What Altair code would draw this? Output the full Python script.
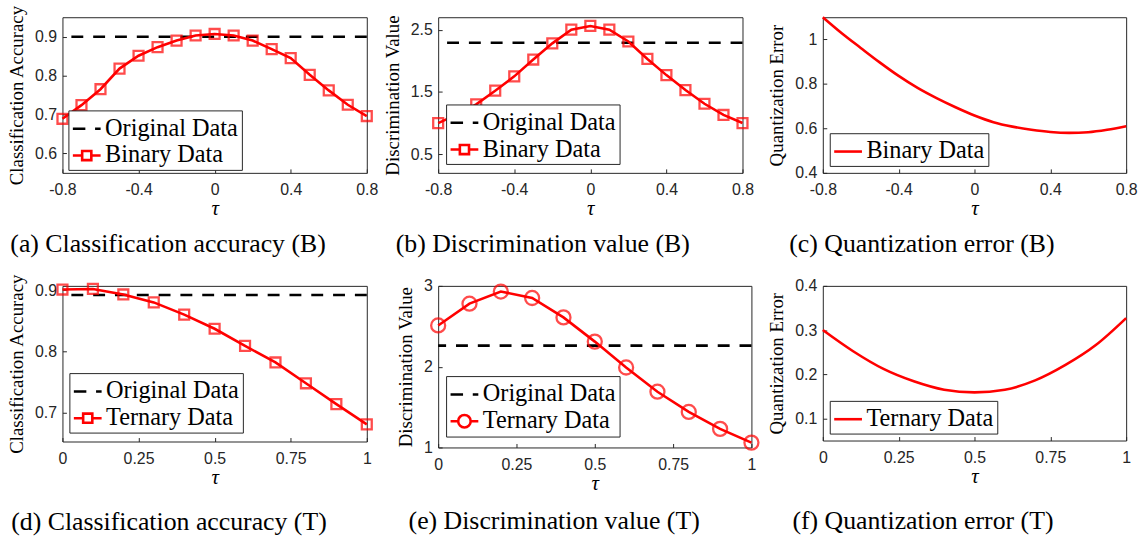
import altair as alt
import pandas as pd

# ---------------- data ----------------
tau_b = [-0.8, -0.7, -0.6, -0.5, -0.4, -0.3, -0.2, -0.1, 0.0, 0.1, 0.2, 0.3, 0.4, 0.5, 0.6, 0.7, 0.8]
acc_b = [0.689, 0.724, 0.765, 0.818, 0.851, 0.873, 0.890, 0.903, 0.907, 0.903, 0.890, 0.868, 0.845, 0.802, 0.762, 0.725, 0.696]
disc_b = [1.00, 1.14, 1.30, 1.52, 1.75, 2.02, 2.28, 2.50, 2.56, 2.50, 2.31, 2.03, 1.77, 1.53, 1.31, 1.13, 1.00]
qe_b = [1.100, 1.028, 0.962, 0.897, 0.836, 0.782, 0.736, 0.695, 0.658, 0.628, 0.608, 0.594, 0.584, 0.580, 0.583, 0.594, 0.610]
orig_acc_b = 0.9
orig_disc_b = 2.29

tau_t = [0.0, 0.1, 0.2, 0.3, 0.4, 0.5, 0.6, 0.7, 0.8, 0.9, 1.0]
acc_t = [0.901, 0.902, 0.893, 0.880, 0.860, 0.837, 0.809, 0.782, 0.748, 0.714, 0.681]
disc_t = [2.51, 2.78, 2.93, 2.85, 2.61, 2.31, 1.99, 1.69, 1.44, 1.23, 1.06]
qe_t = [0.300, 0.252, 0.212, 0.184, 0.165, 0.159, 0.165, 0.186, 0.221, 0.266, 0.327]
orig_acc_t = 0.892
orig_disc_t = 2.26

xticks_b = [-0.8, -0.4, 0, 0.4, 0.8]
xticks_t = [0, 0.25, 0.5, 0.75, 1]

captions = [
    "(a) Classification accuracy (B)",
    "(b) Discrimination value (B)",
    "(c) Quantization error (B)",
    "(d) Classification accuracy (T)",
    "(e) Discrimination value (T)",
    "(f) Quantization error (T)",
]

SERIF = "Liberation Serif"
SANS = "Liberation Sans"
AX = "#262626"

PATH_DASH = "M-1,0H-0.1M0.6,0H1"
PATH_LSQ = "M-1,0H-0.33M0.33,0H1M-0.33,-0.33H0.33V0.33H-0.33Z"
PATH_LCI = "M-1,0H-0.45M0.45,0A0.45,0.45,0,1,1,-0.45,0A0.45,0.45,0,1,1,0.45,0H1"
PATH_LINE = "M-1,0H1"


def panel(tau, vals, xdom, xticks, ydom, yticks, ytitle, series, caption,
          w, h, lx, ly, dx, cap_off, orig=None, marker=None, smooth=False):
    df = pd.DataFrame({"tau": tau, "v": vals, "series": series})
    xenc = alt.X("tau:Q", scale=alt.Scale(domain=xdom, nice=False, zero=False),
                 axis=alt.Axis(values=xticks, labelExpr="'' + datum.value", title="τ",
                               titleFontStyle="italic", titleFont=SERIF, titleFontSize=21,
                               titlePadding=0, labelPadding=9, labelFlush=False,
                               labelOverlap=False, ticks=True, tickSize=4, offset=-4,
                               tickColor=AX, tickWidth=1))
    yenc = alt.Y("v:Q", scale=alt.Scale(domain=ydom, nice=False, zero=False),
                 axis=alt.Axis(values=yticks, labelExpr="'' + datum.value", title=ytitle,
                               titleFont=SERIF, titleFontSize=19, titlePadding=8,
                               labelPadding=6, labelFlush=False, labelOverlap=False,
                               ticks=True, tickSize=4, offset=-4, tickColor=AX, tickWidth=1))
    layers = []
    if orig is not None:
        odf = pd.DataFrame({"v": [orig]})
        layers.append(alt.Chart(odf).mark_rule(color="black", strokeWidth=2.6,
                                               strokeDash=[12, 10]).encode(
            y=alt.Y("v:Q", scale=alt.Scale(domain=ydom, nice=False, zero=False))))
    line = alt.Chart(df).mark_line(color="#ff0000", strokeWidth=2.6,
                                   interpolate="monotone" if smooth else "linear").encode(x=xenc, y=yenc)
    layers.append(line)
    if marker is not None:
        size = 100 if marker == "square" else 200
        layers.append(alt.Chart(df).mark_point(shape=marker, size=size, color="#ff0000",
                                               strokeWidth=2.3, filled=False).encode(x=xenc, y=yenc))
    if orig is not None:
        names = ["Original Data", series]
        colors = ["black", "#ff0000"]
        paths = [PATH_DASH, PATH_LSQ if marker == "square" else PATH_LCI]
    else:
        names = [series]
        colors = ["#ff0000"]
        paths = [PATH_LINE]
    leg = alt.Legend(title=None, orient="none", legendX=lx, legendY=ly,
                     strokeColor=AX, fillColor="white", padding=3,
                     labelFont=SERIF, labelFontSize=24.5, labelColor="black",
                     labelOffset=3, symbolSize=784, symbolStrokeWidth=2.6,
                     symbolOpacity=1, symbolFillColor="transparent", rowPadding=0,
                     labelLimit=400)
    legend_layer = alt.Chart(df).mark_point(opacity=0, filled=False).encode(
        x=xenc, y=yenc,
        color=alt.Color("series:N", scale=alt.Scale(domain=names, range=colors), legend=leg),
        shape=alt.Shape("series:N", scale=alt.Scale(domain=names, range=paths), legend=leg),
    )
    layers.append(legend_layer)
    return alt.layer(*layers).properties(
        width=w, height=h,
        title=alt.TitleParams(caption, orient="bottom", anchor="middle", dx=dx, offset=cap_off,
                              font=SERIF, fontSize=26, fontWeight="normal", color="black"),
    )


def spacer(w, h):
    return alt.Chart(pd.DataFrame({"z": [0]})).mark_point(opacity=0).properties(
        width=w, height=h, view=alt.ViewBackground(stroke="transparent"))


pa = panel(tau_b, acc_b, [-0.8, 0.8], xticks_b, [0.55, 0.95], [0.6, 0.7, 0.8, 0.9],
           "Classification Accuracy", "Binary Data", captions[0], 307, 157, 6, 94, -47, 13,
           orig=orig_acc_b, marker="square")
pb = panel(tau_b, disc_b, [-0.8, 0.8], xticks_b, [0.2, 2.7], [0.5, 1, 1.5, 2, 2.5],
           "Discrimination Value", "Binary Data", captions[1], 307, 157, 8, 88, -48, 13,
           orig=orig_disc_b, marker="square")
pc = panel(tau_b, qe_b, [-0.8, 0.8], xticks_b, [0.4, 1.1], [0.4, 0.6, 0.8, 1],
           "Quantization Error", "Binary Data", captions[2], 306, 157, 7, 117, -53, 13,
           smooth=True)
pd_ = panel(tau_t, acc_t, [0, 1], xticks_t, [0.653, 0.907], [0.7, 0.8, 0.9],
            "Classification Accuracy", "Ternary Data", captions[3], 307, 157, 7, 88, -46, 22,
            orig=orig_acc_t, marker="square")
pe = panel(tau_t, disc_t, [0, 1], xticks_t, [1, 3], [1, 2, 3],
           "Discrimination Value", "Ternary Data", captions[4], 316, 163, 8, 91, -41, 15,
           orig=orig_disc_t, marker="circle")
pf = panel(tau_t, qe_t, [0, 1], xticks_t, [0.05, 0.4], [0.1, 0.2, 0.3, 0.4],
           "Quantization Error", "Ternary Data", captions[5], 306, 156, 7, 116, -52, 22,
           smooth=True)

# flow layout: 5 columns (panel, gap, panel, gap, panel), 3 rows (panels, vertical gaps, panels)
cells = [
    pa, spacer(72, 1), pb, spacer(71, 1), pc,
    spacer(307, 113), spacer(62, 1), spacer(316, 107), spacer(72, 1), spacer(306, 114),
    pd_, spacer(62, 1), pe, spacer(72, 1), pf,
]

chart = alt.concat(*cells, columns=5, spacing=0, bounds="flush", align="none").resolve_scale(
    x="independent", y="independent", color="independent", shape="independent"
).properties(
    padding={"left": 7, "top": 1, "right": 5, "bottom": 5}, background="white"
).configure_view(stroke=AX, strokeWidth=1).configure_axis(
    grid=False, domain=False, ticks=False, labelFont=SANS, labelFontSize=16,
    labelColor=AX, titleColor="black", titleFontWeight="normal"
)

chart.save("out.html", embed_options={"renderer": "svg", "actions": False})
